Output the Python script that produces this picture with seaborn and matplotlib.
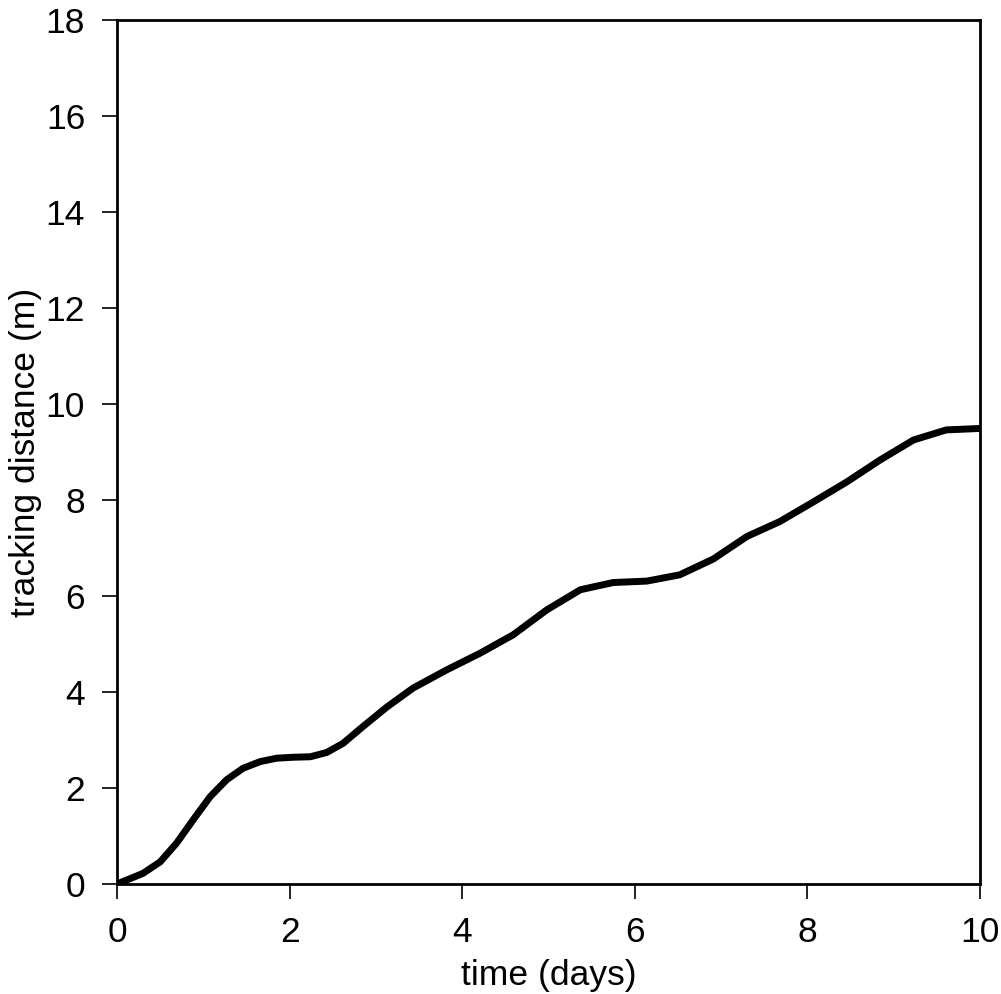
import matplotlib
matplotlib.use("Agg")
import matplotlib.pyplot as plt
import seaborn as sns
import pandas as pd

time_days = [0.0, 0.3, 0.5, 0.69, 0.88, 1.08, 1.27, 1.46, 1.66, 1.85, 2.04, 2.24, 2.43, 2.62,
             2.85, 3.13, 3.43, 3.82, 4.21, 4.59, 4.98, 5.37, 5.75, 6.14, 6.52, 6.91, 7.3,
             7.68, 8.07, 8.46, 8.84, 9.23, 9.61, 10.0]
tracking_m = [0.0, 0.22, 0.46, 0.85, 1.33, 1.82, 2.17, 2.41, 2.55, 2.62, 2.64, 2.65, 2.74, 2.93,
              3.28, 3.69, 4.08, 4.46, 4.81, 5.19, 5.71, 6.13, 6.28, 6.31, 6.44, 6.77, 7.24,
              7.55, 7.96, 8.38, 8.83, 9.25, 9.46, 9.49]

df = pd.DataFrame({"time": time_days, "dist": tracking_m})

sns.set_style("white")
plt.rcParams["font.family"] = ["Liberation Sans", "DejaVu Sans"]
plt.rcParams["text.color"] = "black"
plt.rcParams["axes.labelcolor"] = "black"
plt.rcParams["xtick.color"] = "black"
plt.rcParams["ytick.color"] = "black"

fig = plt.figure(figsize=(10.01, 9.94), dpi=100)
ax = fig.add_axes([0.1169, 0.1107, 0.8621, 0.8692])
sns.lineplot(data=df, x="time", y="dist", ax=ax, color="black", linewidth=5,
             solid_capstyle="round", solid_joinstyle="round")

ax.set_xlim(0, 10)
ax.set_ylim(0, 18)
ax.set_xticks(range(0, 11, 2))
ax.set_yticks(range(0, 19, 2))
ax.set_xlabel("time (days)", fontsize=25.5, labelpad=7)
ax.set_ylabel("tracking distance (m)", fontsize=25.5, labelpad=3)
ax.tick_params(axis="both", which="major", labelsize=25.5, direction="out", length=11,
               width=1.2, left=True, bottom=True)
ax.tick_params(axis="x", pad=12, colors="black")
ax.tick_params(axis="y", pad=12, colors="black")
for s in ax.spines.values():
    s.set_linewidth(2)
    s.set_color("black")

fig.savefig("out.png", dpi=100)
